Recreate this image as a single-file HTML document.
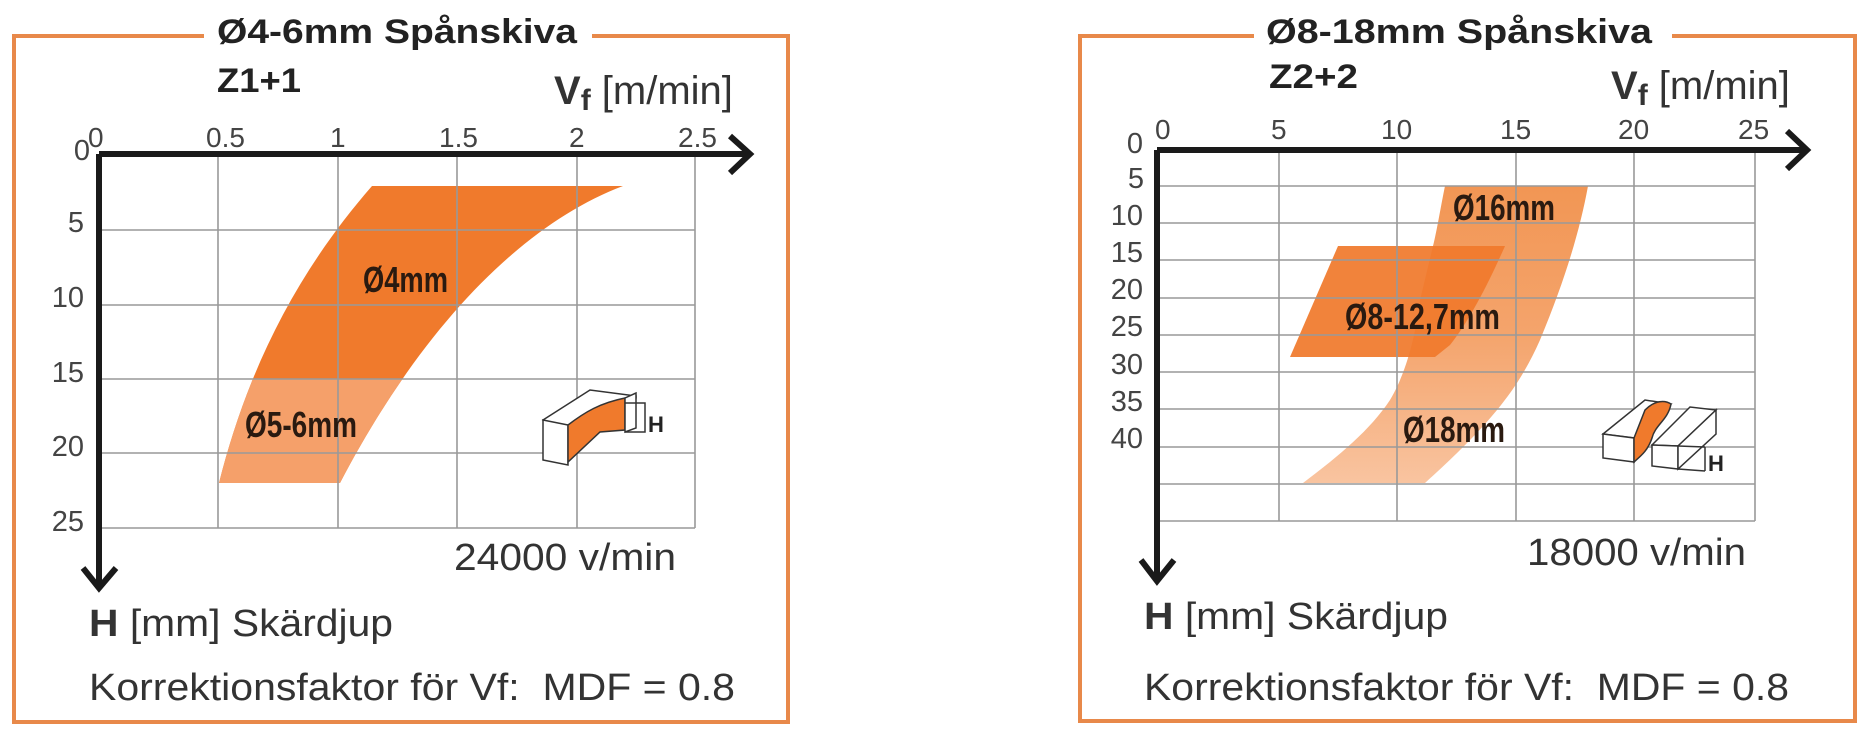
<!DOCTYPE html>
<html><head><meta charset="utf-8"><style>
html,body{margin:0;padding:0;background:#fff;}
svg{display:block;}
text{font-family:"Liberation Sans",sans-serif;}
.t{font-weight:bold;font-size:34px;fill:#222;}
.tick{font-size:28px;fill:#444;}
.yl{font-size:29px;fill:#444;text-anchor:end;}
.big{font-size:38px;fill:#333;}
.lab{font-weight:bold;font-size:36px;fill:#2a1a10;}
.grid{stroke:#999;stroke-width:1.6;fill:none;}
.ax{stroke:#1a1a1a;stroke-width:6;fill:none;}
.box{stroke:#e8894a;stroke-width:4;fill:none;}
.ic{stroke:#333;stroke-width:1.5;fill:#fff;}
</style></head><body>
<svg width="1870" height="742" viewBox="0 0 1870 742" xmlns="http://www.w3.org/2000/svg">
<defs>
<linearGradient id="g1" x1="0" y1="186" x2="0" y2="483" gradientUnits="userSpaceOnUse">
<stop offset="0" stop-color="#f29654"/><stop offset="0.5" stop-color="#f4a46c"/><stop offset="1" stop-color="#f9c4a0"/>
</linearGradient>
<clipPath id="lo"><rect x="0" y="379" width="800" height="200"/></clipPath>
</defs>
<!-- LEFT -->
<polyline class="box" points="204,36 14,36 14,722 788,722 788,36 592,36"/>
<text class="t" x="217" y="43" textLength="360" lengthAdjust="spacingAndGlyphs">Ø4-6mm Spånskiva</text>
<text class="t" x="217" y="92" textLength="84" lengthAdjust="spacingAndGlyphs">Z1+1</text>
<text x="554" y="104" class="big"><tspan font-weight="bold" font-size="40">V</tspan><tspan font-weight="bold" font-size="30" dy="6">f</tspan><tspan dy="-6" font-size="40"> [m/min]</tspan></text>
<path id="b4" d="M372,186 L623,186 C520,225 420,330 340,483 L219,483 C245,380 290,280 372,186 Z" fill="#f07a2c"/>
<path d="M372,186 L623,186 C520,225 420,330 340,483 L219,483 C245,380 290,280 372,186 Z" fill="#f5a06a" clip-path="url(#lo)"/>
<g class="grid">
<path d="M218,154V528M338,154V528M457,154V528M577,154V528M695,154V528"/>
<path d="M99,230H695M99,305H695M99,379H695M99,453H695M99,528H695"/>
</g>
<text class="lab" x="363" y="292" textLength="85" lengthAdjust="spacingAndGlyphs">Ø4mm</text>
<text class="lab" x="245" y="437" textLength="112" lengthAdjust="spacingAndGlyphs">Ø5-6mm</text>
<path class="ax" d="M99,154H748M730,136L750,154L730,173M99,154V587M83,568L99,588L116,568"/>
<g class="tick"><text x="88" y="147">0</text><text x="206" y="147">0.5</text><text x="330" y="147">1</text><text x="439" y="147">1.5</text><text x="569" y="147">2</text><text x="678" y="147">2.5</text></g>
<g class="yl"><text x="90" y="160">0</text><text x="84" y="232">5</text><text x="84" y="307">10</text><text x="84" y="382">15</text><text x="84" y="456">20</text><text x="84" y="531">25</text></g>
<g>
<path class="ic" d="M543,420 L590,390 L636,396 L636,398 L620,403 L568,437 Z"/>
<path class="ic" d="M543,420 L568,425 L568,465 L543,460 Z"/>
<path d="M568,425 C585,412 600,403 625,398 L625,430 L600,432 L568,462 Z" fill="#f07a2c" stroke="#333" stroke-width="1.5"/>
<path class="ic" d="M625,398 L636,393 L636,428 L625,432 Z"/>
<path d="M625,403H645V432H625" fill="none" stroke="#333" stroke-width="1.5"/>
<text x="648" y="432" font-weight="bold" font-size="22" fill="#222">H</text>
</g>
<text class="big" x="454" y="570" textLength="222" lengthAdjust="spacingAndGlyphs">24000 v/min</text>
<text class="big" x="89" y="636" textLength="304" lengthAdjust="spacingAndGlyphs"><tspan font-weight="bold">H</tspan> [mm] Skärdjup</text>
<text class="big" x="89" y="700" textLength="646" lengthAdjust="spacingAndGlyphs" xml:space="preserve">Korrektionsfaktor för Vf:  MDF = 0.8</text>

<!-- RIGHT -->
<polyline class="box" points="1254,36 1080,36 1080,721 1855,721 1855,36 1672,36"/>
<text class="t" x="1266" y="43" textLength="386" lengthAdjust="spacingAndGlyphs">Ø8-18mm Spånskiva</text>
<text class="t" x="1269" y="88" textLength="89" lengthAdjust="spacingAndGlyphs">Z2+2</text>
<text x="1611" y="99" class="big"><tspan font-weight="bold" font-size="40">V</tspan><tspan font-weight="bold" font-size="30" dy="6">f</tspan><tspan dy="-6" font-size="40"> [m/min]</tspan></text>
<path d="M1445,186 L1588,186 C1580,230 1565,280 1540,340 C1520,385 1495,420 1425,483 L1303,483 C1340,455 1370,430 1390,400 C1405,375 1415,340 1420,300 L1433,246 C1437,230 1441,205 1445,186 Z" fill="url(#g1)"/>
<path d="M1338,246 L1505,246 C1490,280 1470,320 1450,345 L1435,357 L1290,357 Z" fill="#f07a2c" opacity="0.93"/>
<g class="grid">
<path d="M1279,150V521M1397,150V521M1516,150V521M1634,150V521M1755,150V521"/>
<path d="M1157,186H1755M1157,223H1755M1157,260H1755M1157,298H1755M1157,335H1755M1157,372H1755M1157,409H1755M1157,447H1755M1157,484H1755M1157,521H1755"/>
</g>
<text class="lab" x="1453" y="220" textLength="102" lengthAdjust="spacingAndGlyphs">Ø16mm</text>
<text class="lab" x="1345" y="329" textLength="155" lengthAdjust="spacingAndGlyphs">Ø8-12,7mm</text>
<text class="lab" x="1403" y="442" textLength="102" lengthAdjust="spacingAndGlyphs">Ø18mm</text>
<path class="ax" d="M1157,150H1805M1787,131L1807,150L1787,169M1157,150V580M1141,560L1157,581L1174,560"/>
<g class="tick"><text x="1155" y="139">0</text><text x="1271" y="139">5</text><text x="1381" y="139">10</text><text x="1500" y="139">15</text><text x="1618" y="139">20</text><text x="1738" y="139">25</text></g>
<g class="yl"><text x="1143" y="153">0</text><text x="1144" y="188">5</text><text x="1143" y="225">10</text><text x="1143" y="262">15</text><text x="1143" y="299">20</text><text x="1143" y="336">25</text><text x="1143" y="374">30</text><text x="1143" y="411">35</text><text x="1143" y="448">40</text></g>
<g>
<path class="ic" d="M1603,434 L1645,400 L1671,404 L1635,438 Z"/>
<path class="ic" d="M1603,434 L1634,438 L1634,462 L1603,458 Z"/>
<path d="M1645,410 C1655,400 1665,400 1671,404 C1668,420 1655,425 1652,438 C1648,450 1642,455 1634,462 L1634,438 Z" fill="#f07a2c" stroke="#333" stroke-width="1.5"/>
<path class="ic" d="M1652,445 L1690,407 L1716,410 L1678,446 Z"/>
<path class="ic" d="M1652,445 L1678,446 L1678,469 L1652,466 Z"/>
<path class="ic" d="M1678,446 L1716,410 L1716,434 L1678,469 Z"/>
<path d="M1678,446 L1705,447 M1678,469 L1705,471 M1705,447 V471" fill="none" stroke="#333" stroke-width="1.5"/>
<text x="1708" y="471" font-weight="bold" font-size="22" fill="#222">H</text>
</g>
<text class="big" x="1527" y="565" textLength="219" lengthAdjust="spacingAndGlyphs">18000 v/min</text>
<text class="big" x="1144" y="629" textLength="304" lengthAdjust="spacingAndGlyphs"><tspan font-weight="bold">H</tspan> [mm] Skärdjup</text>
<text class="big" x="1144" y="700" textLength="645" lengthAdjust="spacingAndGlyphs" xml:space="preserve">Korrektionsfaktor för Vf:  MDF = 0.8</text>
</svg>
</body></html>
